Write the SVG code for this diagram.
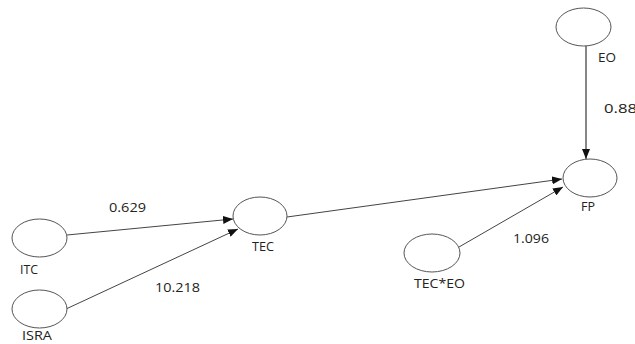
<svg xmlns="http://www.w3.org/2000/svg" width="635" height="344" viewBox="0 0 635 344">
<style>
.n{fill:#fff;stroke:#555;stroke-width:1}
.c{stroke:#444;stroke-width:1;fill:none;marker-end:url(#ah)}
text{font-family:"Open Sans","Liberation Sans",sans-serif;font-size:12.5px;fill:#222}
</style>
<defs>
<marker id="ah" viewBox="0 0 10 8" refX="10" refY="4" markerWidth="10" markerHeight="8" markerUnits="userSpaceOnUse" orient="auto">
<path d="M0,0 L10,4 L0,8 Z" fill="#111"/>
</marker>
</defs>
<g id="connectors">
<line class="c" x1="67" y1="235" x2="233" y2="219"/>
<line class="c" x1="66" y1="309" x2="238" y2="229"/>
<line class="c" x1="287" y1="217" x2="562" y2="179"/>
<line class="c" x1="586" y1="46" x2="586" y2="159" style="stroke:#111"/>
<line class="c" x1="459" y1="247" x2="563" y2="187"/>
<text x="109" y="212" textLength="37" lengthAdjust="spacingAndGlyphs">0.629</text>
<text x="155" y="292" textLength="45" lengthAdjust="spacingAndGlyphs">10.218</text>
<text x="604" y="113" textLength="33" lengthAdjust="spacingAndGlyphs">0.88</text>
<text x="513" y="243" textLength="36" lengthAdjust="spacingAndGlyphs">1.096</text>
</g>
<g id="ITC"><ellipse class="n" cx="39.5" cy="238" rx="27.5" ry="19"/><text x="20" y="274" textLength="18" lengthAdjust="spacingAndGlyphs">ITC</text></g>
<g id="ISRA"><ellipse class="n" cx="39.5" cy="309" rx="27.5" ry="19"/><text x="22" y="340" textLength="30" lengthAdjust="spacingAndGlyphs">ISRA</text></g>
<g id="TEC"><ellipse class="n" cx="260" cy="216" rx="27" ry="19"/><text x="252" y="251" textLength="22" lengthAdjust="spacingAndGlyphs">TEC</text></g>
<g id="EO"><ellipse class="n" cx="583.5" cy="27" rx="27.5" ry="19"/><text x="598" y="62" textLength="18" lengthAdjust="spacingAndGlyphs">EO</text></g>
<g id="FP"><ellipse class="n" cx="590" cy="178" rx="27" ry="19"/><text x="581" y="211" textLength="14" lengthAdjust="spacingAndGlyphs">FP</text></g>
<g id="TEC_EO"><ellipse class="n" cx="432" cy="253" rx="28" ry="19"/><text x="414" y="288" textLength="51" lengthAdjust="spacingAndGlyphs">TEC*EO</text></g>
</svg>
